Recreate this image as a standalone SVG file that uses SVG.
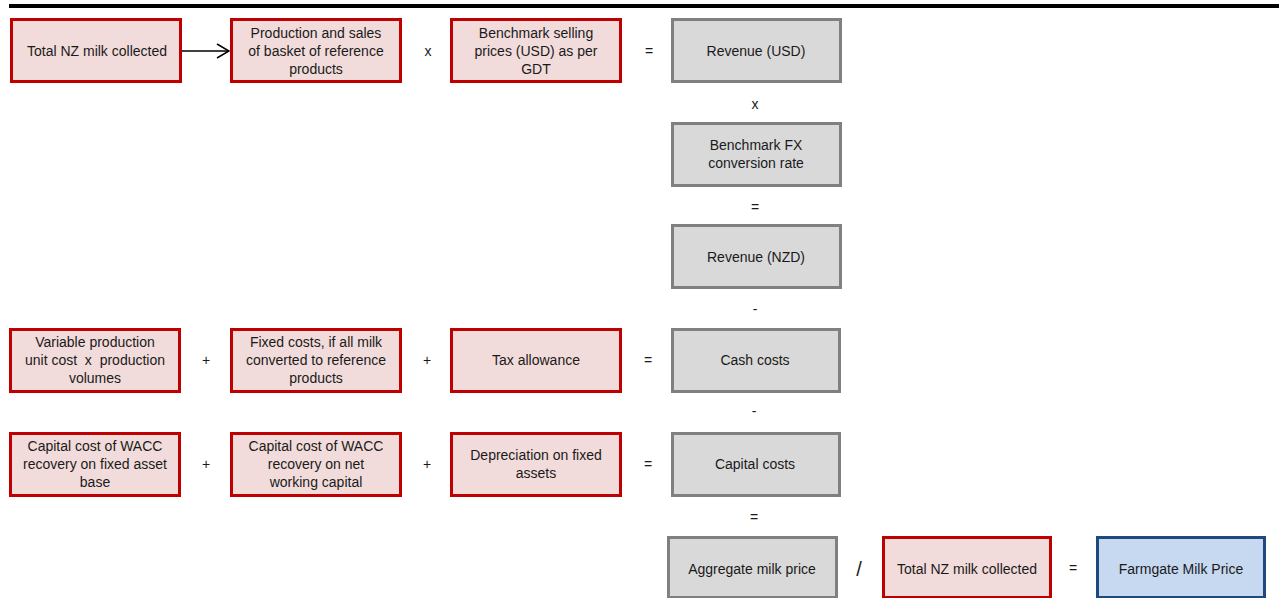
<svg xmlns="http://www.w3.org/2000/svg" width="1279" height="598" viewBox="0 0 1279 598">
  <style>
    text { font-family: "Liberation Sans", Arial, sans-serif; font-size: 14px; fill: #1a1a1a; text-anchor: middle; white-space: pre; }
    .op { font-size: 14px; }
    .input rect { fill: #f2dcdb; stroke: #c00000; stroke-width: 3; }
    .calc rect { fill: #d9d9d9; stroke: #808080; stroke-width: 3; }
    .result rect { fill: #c6d9f1; stroke: #1f497d; stroke-width: 3; }
  </style>
  <defs>
    <marker id="chevron" viewBox="0 0 14 16" refX="13" refY="8" markerWidth="14" markerHeight="16" markerUnits="userSpaceOnUse" orient="auto">
      <path d="M1,1 L13,8 L1,15" fill="none" stroke="#000" stroke-width="1.5"/>
    </marker>
  </defs>

  <!-- header rule -->
  <rect x="9" y="4" width="1270" height="4" fill="#000"/>

  <!-- row 1 -->
  <g id="milk-collected" class="input">
    <rect x="11.5" y="19.5" width="169" height="62"/>
    <text x="97" y="56">Total NZ milk collected</text>
  </g>
  <g id="production-sales" class="input">
    <rect x="231.5" y="19.5" width="169" height="62"/>
    <text x="316" y="38">Production and sales</text>
    <text x="316" y="56">of basket of reference</text>
    <text x="316" y="74">products</text>
  </g>
  <g id="selling-prices" class="input">
    <rect x="451.5" y="19.5" width="169" height="62"/>
    <text x="536" y="38">Benchmark selling</text>
    <text x="536" y="56">prices (USD) as per</text>
    <text x="536" y="74">GDT</text>
  </g>
  <g id="revenue-usd" class="calc">
    <rect x="672.5" y="19.5" width="168" height="62"/>
    <text x="756" y="56">Revenue (USD)</text>
  </g>

  <!-- FX column -->
  <g id="fx-rate" class="calc">
    <rect x="672.5" y="123.5" width="168" height="62"/>
    <text x="756" y="150">Benchmark FX</text>
    <text x="756" y="168">conversion rate</text>
  </g>
  <g id="revenue-nzd" class="calc">
    <rect x="672.5" y="225.5" width="168" height="62"/>
    <text x="756" y="262">Revenue (NZD)</text>
  </g>

  <!-- cash cost row -->
  <g id="variable-cost" class="input">
    <rect x="10.5" y="329.5" width="169" height="62"/>
    <text x="95" y="347">Variable production</text>
    <text x="95" y="365">unit cost  x  production</text>
    <text x="95" y="383">volumes</text>
  </g>
  <g id="fixed-costs" class="input">
    <rect x="231.5" y="329.5" width="169" height="62"/>
    <text x="316" y="347">Fixed costs, if all milk</text>
    <text x="316" y="365">converted to reference</text>
    <text x="316" y="383">products</text>
  </g>
  <g id="tax-allowance" class="input">
    <rect x="451.5" y="329.5" width="169" height="62"/>
    <text x="536" y="365">Tax allowance</text>
  </g>
  <g id="cash-costs" class="calc">
    <rect x="672.5" y="329.5" width="167" height="62"/>
    <text x="755" y="365">Cash costs</text>
  </g>

  <!-- capital cost row -->
  <g id="wacc-fixed" class="input">
    <rect x="10.5" y="433.5" width="169" height="62"/>
    <text x="95" y="451">Capital cost of WACC</text>
    <text x="95" y="469">recovery on fixed asset</text>
    <text x="95" y="487">base</text>
  </g>
  <g id="wacc-working" class="input">
    <rect x="231.5" y="433.5" width="169" height="62"/>
    <text x="316" y="451">Capital cost of WACC</text>
    <text x="316" y="469">recovery on net</text>
    <text x="316" y="487">working capital</text>
  </g>
  <g id="depreciation" class="input">
    <rect x="451.5" y="433.5" width="169" height="62"/>
    <text x="536" y="460">Depreciation on fixed</text>
    <text x="536" y="478">assets</text>
  </g>
  <g id="capital-costs" class="calc">
    <rect x="672.5" y="433.5" width="167" height="62"/>
    <text x="755" y="469">Capital costs</text>
  </g>

  <!-- result row -->
  <g id="aggregate-price" class="calc">
    <rect x="668.5" y="537.5" width="168" height="60"/>
    <text x="752" y="574">Aggregate milk price</text>
  </g>
  <g id="milk-collected-2" class="input">
    <rect x="883.5" y="537.5" width="167" height="60"/>
    <text x="967" y="574">Total NZ milk collected</text>
  </g>
  <g id="farmgate-price" class="result">
    <rect x="1097.5" y="537.5" width="167" height="60"/>
    <text x="1181" y="574">Farmgate Milk Price</text>
  </g>

  <!-- connectors and operators -->
  <g id="connectors">
    <line x1="182" y1="51" x2="229" y2="51" stroke="#000" stroke-width="1.5" marker-end="url(#chevron)"/>
    <text class="op" x="428" y="56">x</text>
    <text class="op" x="649" y="56">=</text>
    <text class="op" x="755" y="109">x</text>
    <text class="op" x="755" y="212">=</text>
    <text class="op" x="755" y="314">-</text>
    <text class="op" x="206" y="365">+</text>
    <text class="op" x="427" y="365">+</text>
    <text class="op" x="648" y="365">=</text>
    <text class="op" x="754" y="416">-</text>
    <text class="op" x="206" y="469">+</text>
    <text class="op" x="427" y="469">+</text>
    <text class="op" x="648" y="469">=</text>
    <text class="op" x="754" y="522">=</text>
    <text class="op" x="859" y="576" style="font-size:20px">/</text>
    <text class="op" x="1073" y="573">=</text>
  </g>
</svg>
